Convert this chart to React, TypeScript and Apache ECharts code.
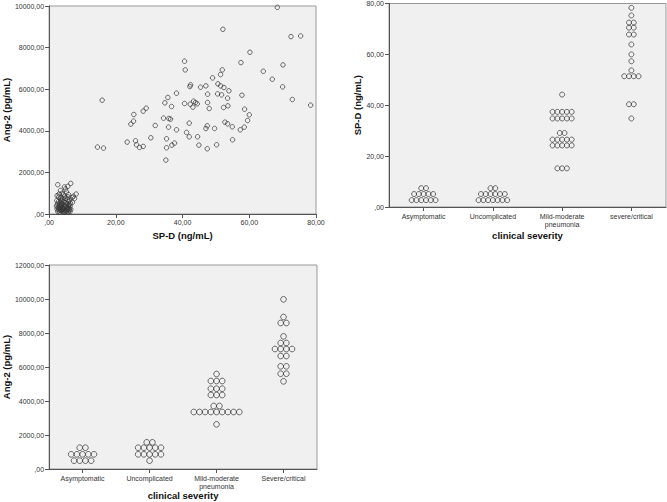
import { useEffect, useRef } from 'react';
import * as echarts from 'echarts';

// Scatter: SP-D (ng/mL) vs Ang-2 (pg/mL)
const scatterCluster: [number, number][] = [
  [2.6, 1408], [6.5, 1472], [5.6, 1330], [4.6, 1300], [4.9, 1200], [3.4, 1130], [5.2, 1060], [8.1, 960],
  [7.6, 740], [7.3, 850], [6.9, 800], [2.4, 880], [3.0, 960], [3.9, 1000], [4.3, 920], [5.8, 940],
  [2.9, 820], [3.6, 780], [4.1, 720], [4.8, 760], [5.5, 700], [6.2, 680], [2.3, 640], [2.8, 600],
  [3.3, 560], [3.8, 620], [4.4, 580], [5.0, 540], [5.9, 600], [6.4, 520], [2.5, 480], [3.1, 440],
  [3.7, 500], [4.2, 460], [4.7, 420], [5.3, 480], [5.8, 400], [6.3, 380], [2.7, 360], [3.2, 320],
  [3.6, 380], [4.0, 300], [4.5, 340], [5.1, 290], [5.6, 320], [6.1, 260], [2.4, 240], [2.9, 200],
  [3.4, 260], [3.9, 180], [4.4, 220], [4.9, 160], [5.4, 200], [6.0, 170], [6.5, 230], [2.6, 120],
  [3.1, 90], [3.7, 140], [4.2, 110], [4.7, 80], [5.2, 130], [5.7, 100], [6.3, 120], [3.5, 680],
  [4.6, 860], [5.7, 820], [7.0, 560], [2.2, 380], [3.3, 180], [4.1, 240], [5.0, 380], [5.9, 250],
  [2.8, 300], [4.5, 150], [3.6, 420], [6.0, 460],
];
const scatterSpread: [number, number][] = [
  [68.4, 9936], [52.1, 8880], [72.5, 8528], [75.4, 8560], [60.2, 7776], [40.6, 7344], [40.8, 6928],
  [51.9, 6928], [57.5, 7280], [70.1, 7168], [64.2, 6864], [51.4, 6704], [49.0, 6544], [66.9, 6480],
  [42.4, 6208], [42.2, 6128], [47.0, 6160], [45.4, 6096], [50.6, 6256], [51.4, 6160], [52.4, 6080],
  [53.9, 5920], [70.0, 6112], [38.2, 5808], [35.6, 5600], [47.5, 5760], [50.5, 5776], [51.7, 5728],
  [53.5, 5568], [57.8, 5712], [72.9, 5504], [15.9, 5472], [34.7, 5344], [40.6, 5312], [36.7, 5168],
  [42.3, 5280], [43.3, 5424], [43.9, 5360], [44.4, 5296], [43.1, 5136], [47.5, 5360], [48.0, 5072],
  [52.3, 5120], [53.6, 5200], [58.6, 5040], [78.4, 5232], [29.1, 5088], [28.2, 4944], [25.4, 4784],
  [25.3, 4464], [24.5, 4320], [60.0, 4768], [59.5, 4496], [52.7, 4416], [53.5, 4336], [54.9, 4192],
  [58.5, 4176], [57.3, 4048], [35.9, 4592], [36.4, 4560], [34.3, 4608], [42.0, 4368], [31.8, 4256],
  [35.8, 4176], [38.2, 4048], [47.4, 4240], [47.0, 4112], [49.6, 4112], [41.2, 3920], [42.0, 3712],
  [44.5, 3712], [30.5, 3664], [35.2, 3616], [55.0, 3568], [14.5, 3216], [16.3, 3168], [23.4, 3456],
  [25.9, 3520], [26.2, 3328], [27.1, 3200], [28.2, 3248], [37.6, 3408], [36.8, 3312], [35.2, 3184],
  [44.9, 3312], [50.2, 3328], [47.4, 3136], [35.0, 2592],
];

// Dot plots: rows of [value, number of stacked dots]
const spdCategories = ['Asymptomatic', 'Uncomplicated', 'Mild-moderate\npneumonia', 'severe/critical'];
const spdAsymptomatic: [number, number][] = [[2.7, 6], [5.1, 5], [7.4, 2]];
const spdUncomplicated: [number, number][] = [[2.7, 7], [5.1, 6], [7.4, 2]];
const spdMild: [number, number][] = [[15.2, 3], [24.2, 5], [26.5, 5], [29.1, 2], [34.8, 5], [37.4, 5], [44.2, 1]];
const spdSevere: [number, number][] = [
  [34.8, 1], [40.4, 2], [51.4, 4], [53.7, 1], [57.3, 1], [60.0, 1], [63.9, 1], [67.8, 2], [70.5, 2],
  [72.5, 2], [75.3, 1], [78.3, 1],
];

const angCategories = ['Asymptomatic', 'Uncomplicated', 'Mild-moderate\npneumonia', 'Severe/critical'];
const angAsymptomatic: [number, number][] = [[490, 4], [863, 5], [1253, 2]];
const angUncomplicated: [number, number][] = [[490, 1], [863, 5], [1253, 5], [1569, 2]];
const angMild: [number, number][] = [[2627, 1], [3353, 9], [3706, 2], [4353, 3], [4724, 3], [5176, 3], [5588, 1]];
const angSevere: [number, number][] = [
  [5157, 1], [5605, 2], [6039, 2], [6647, 2], [7058, 4], [7412, 2], [7804, 1], [8588, 2], [8941, 1], [9980, 1],
];

const FONT = 'Liberation Sans, Arial, sans-serif';

function stack(groups: [number, number][][], step: number): [number, number][] {
  const out: [number, number][] = [];
  groups.forEach((rows, ci) => {
    rows.forEach(([v, n]) => {
      for (let k = 0; k < n; k++) out.push([ci + (k - (n - 1) / 2) * step, v]);
    });
  });
  return out;
}

const fmt = (v: number) => (v === 0 ? ',00' : v.toFixed(2).replace('.', ','));

export default function App() {
  const ref = useRef<HTMLDivElement>(null);
  useEffect(() => {
    if (!ref.current) return;
    const chart = echarts.init(ref.current, null, { renderer: 'svg' });
    const axisLine = { show: true, onZero: false, lineStyle: { color: '#555', width: 1 } };
    const axisTick = { show: true, length: 4, lineStyle: { color: '#555' } };
    const tickLabel = { fontSize: 7, color: '#333', fontFamily: FONT, formatter: fmt };
    const nameStyle = { fontSize: 9.5, fontWeight: 'bold' as const, color: '#111', fontFamily: FONT };
    const catLabel = { fontSize: 7, color: '#333', fontFamily: FONT, lineHeight: 7.5, margin: 6, interval: 0 };
    const gridBase = { show: true, backgroundColor: '#f0f0f0', borderColor: '#999', borderWidth: 1 };
    const marker = (size: number) => ({
      type: 'scatter' as const,
      symbol: 'circle',
      symbolSize: size,
      itemStyle: { color: 'rgba(0,0,0,0)', borderColor: '#333', borderWidth: 0.9 },
      silent: true,
    });

    chart.setOption({
      animation: false,
      grid: [
        { ...gridBase, left: 44, top: 6, width: 272, height: 208 },
        { ...gridBase, left: 389, top: 3, width: 277, height: 204 },
        { ...gridBase, left: 46, top: 265, width: 271, height: 204 },
      ],
      xAxis: [
        {
          gridIndex: 0, type: 'value', min: 0, max: 80, interval: 20,
          name: 'SP-D (ng/mL)', nameLocation: 'middle', nameGap: 16, nameTextStyle: nameStyle,
          axisLine, axisTick, axisLabel: { ...tickLabel, margin: 5 }, splitLine: { show: false },
        },
        {
          gridIndex: 1, type: 'category', data: spdCategories, boundaryGap: true,
          name: 'clinical severity', nameLocation: 'middle', nameGap: 23, nameTextStyle: nameStyle,
          axisLine, axisTick: { ...axisTick, alignWithLabel: true }, axisLabel: catLabel, splitLine: { show: false },
        },
        { gridIndex: 1, type: 'value', min: -0.5, max: 3.5, show: false },
        {
          gridIndex: 2, type: 'category', data: angCategories, boundaryGap: true,
          name: 'clinical severity', nameLocation: 'middle', nameGap: 21.5, nameTextStyle: nameStyle,
          axisLine, axisTick: { ...axisTick, alignWithLabel: true }, axisLabel: catLabel, splitLine: { show: false },
        },
        { gridIndex: 2, type: 'value', min: -0.5, max: 3.5, show: false },
      ],
      yAxis: [
        {
          gridIndex: 0, type: 'value', min: 0, max: 10000, interval: 2000,
          name: 'Ang-2 (pg/mL)', nameLocation: 'middle', nameGap: 32.5, nameTextStyle: nameStyle,
          axisLine, axisTick, axisLabel: { ...tickLabel, margin: 5 }, splitLine: { show: false },
        },
        {
          gridIndex: 1, type: 'value', min: 0, max: 80, interval: 20,
          name: 'SP-D (ng/mL)', nameLocation: 'middle', nameGap: 26.5, nameTextStyle: nameStyle,
          axisLine, axisTick, axisLabel: { ...tickLabel, margin: 5 }, splitLine: { show: false },
        },
        {
          gridIndex: 2, type: 'value', min: 0, max: 12000, interval: 2000,
          name: 'Ang-2 (pg/mL)', nameLocation: 'middle', nameGap: 34, nameTextStyle: nameStyle,
          axisLine, axisTick, axisLabel: { ...tickLabel, margin: 5 }, splitLine: { show: false },
        },
      ],
      series: [
        { ...marker(4.5), xAxisIndex: 0, yAxisIndex: 0, data: [...scatterCluster, ...scatterSpread] },
        {
          ...marker(5), xAxisIndex: 2, yAxisIndex: 1,
          data: stack([spdAsymptomatic, spdUncomplicated, spdMild, spdSevere], 0.069),
        },
        {
          ...marker(5.7), xAxisIndex: 4, yAxisIndex: 2,
          data: stack([angAsymptomatic, angUncomplicated, angMild, angSevere], 0.085),
        },
      ],
    });
    return () => chart.dispose();
  }, []);
  return <div ref={ref} style={{ position: 'absolute', left: 0, top: 0, width: 667, height: 502, background: '#fff' }} />;
}
